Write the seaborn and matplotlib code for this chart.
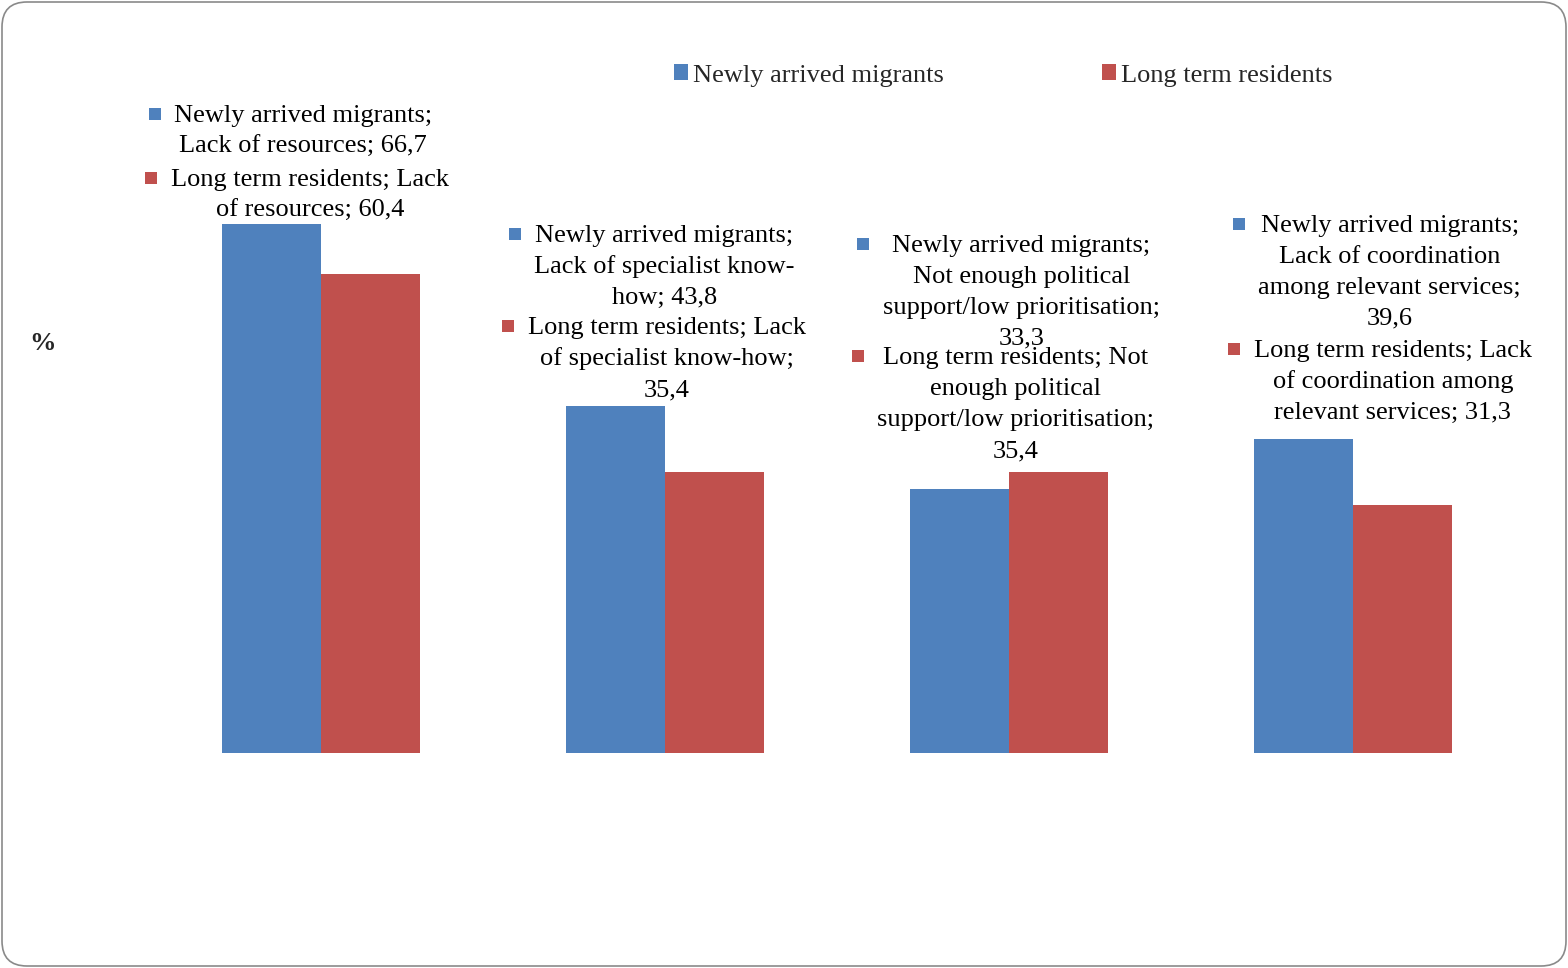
import re
import numpy as np
import pandas as pd
import seaborn as sns
import matplotlib
matplotlib.use("Agg")
import matplotlib.pyplot as plt
from matplotlib.patches import Patch, FancyBboxPatch
from matplotlib.transforms import offset_copy
from matplotlib.font_manager import FontProperties

# ---- data -------------------------------------------------------------
categories = [
    "Lack of resources",
    "Lack of specialist know-how",
    "Not enough political support/low prioritisation",
    "Lack of coordination among relevant services",
]
series_names = ["Newly arrived migrants", "Long term residents"]
newly_arrived = [66.7, 43.8, 33.3, 39.6]
long_term = [60.4, 35.4, 35.4, 31.3]

# ---- styling / layout ---------------------------------------------------
colors = ["#4F81BD", "#C0504D"]
FONT = ["Liberation Serif", "DejaVu Serif"]
FS = 19
PX_PER_UNIT = 7.931
LINE_PITCH = 31          # px between label baselines
WRAP_PX = 293            # wrap width of data labels in px

# label anchors: x offset from category centre, y of first baseline (data units)
label_dx = {
    "Newly arrived migrants": [-0.052, -0.002, 0.036, 0.107],
    "Long term residents": [-0.032, 0.005, 0.020, 0.116],
}
label_y = {
    "Newly arrived migrants": [79.56, 64.47, 63.21, 65.73],
    "Long term residents": [71.53, 52.79, 49.05, 49.97],
}

sns.set_style("white")
plt.rcParams["font.family"] = FONT

df = pd.DataFrame({
    "category": categories * 2,
    "series": [series_names[0]] * 4 + [series_names[1]] * 4,
    "value": newly_arrived + long_term,
})

W, H = 1568, 968
fig = plt.figure(figsize=(W / 100, H / 100), dpi=100)
ax = fig.add_axes([149 / W, (H - 753) / H, 1376 / W, 693 / H])

sns.barplot(data=df, x="category", y="value", hue="series",
            order=categories, hue_order=series_names, palette=colors,
            saturation=1, width=0.5727, linewidth=0, legend=False, ax=ax,
            errorbar=None)

ax.set_xlim(-0.5, 3.5)
ax.set_ylim(0, 693 / PX_PER_UNIT)
ax.set_xticks([])
ax.set_yticks([])
ax.set_xlabel("")
for s in ax.spines.values():
    s.set_visible(False)
ax.set_ylabel("%", rotation=0, fontsize=19, fontweight="bold",
              ha="center", va="center")
ax.yaxis.set_label_coords((42 - 149) / 1376, (753 - 343) / 693)

# ---- data labels ---------------------------------------------------------
renderer = fig.canvas.get_renderer()
prop = FontProperties(family=FONT, size=FS)


def text_px(s):
    w, h, d = renderer.get_text_width_height_descent(s, prop, ismath=False)
    return w


def wrap(text, max_px):
    tokens = []
    for word in text.split(" "):
        parts = re.findall(r"[^-]+-?|-", word)
        for k, p in enumerate(parts):
            tokens.append((p, " " if k == 0 else ""))
    lines = []
    cur = tokens[0][0]
    for tok, sep in tokens[1:]:
        cand = cur + sep + tok
        if text_px(cand) <= max_px:
            cur = cand
        else:
            lines.append(cur)
            cur = tok
    lines.append(cur)
    return lines


values = {series_names[0]: newly_arrived, series_names[1]: long_term}
for si, sname in enumerate(series_names):
    for ci, cat in enumerate(categories):
        v = values[sname][ci]
        label = f"{sname}; {cat}; {v:.1f}".replace(".", ",")
        lines = wrap(label, WRAP_PX)
        x = ci + label_dx[sname][ci]
        y = label_y[sname][ci]
        for li, line in enumerate(lines):
            tr = offset_copy(ax.transData, fig=fig, x=0, y=-li * LINE_PITCH, units="dots")
            ax.text(x, y, line, transform=tr, fontsize=FS, ha="center",
                    va="baseline", color="black")
        maxw = max(text_px(l) for l in lines)
        tr = offset_copy(ax.transData, fig=fig, x=-maxw / 2 - 19.5, y=8, units="dots")
        ax.plot([x], [y], marker="s", markersize=9, mew=0, color=colors[si],
                transform=tr, clip_on=False)

# ---- legend ---------------------------------------------------------------
handles = [Patch(facecolor=c, edgecolor="none") for c in colors]
fig.legend(handles, series_names, loc="center left",
           bbox_to_anchor=(674 / W, 1 - 75.5 / H), ncol=2, frameon=False,
           fontsize=FS, handlelength=0.52, handleheight=0.52,
           handletextpad=0.19, columnspacing=6.0, borderpad=0,
           borderaxespad=0)

# ---- rounded chart border ----------------------------------------------------
border = FancyBboxPatch((0.02, 0.02), 15.64, 9.64,
                        boxstyle="round,pad=0,rounding_size=0.25",
                        transform=fig.dpi_scale_trans, facecolor="none",
                        edgecolor="#8a8a8a", linewidth=1.2)
fig.patches.append(border)

fig.savefig("out.png", dpi=100, facecolor="white")
